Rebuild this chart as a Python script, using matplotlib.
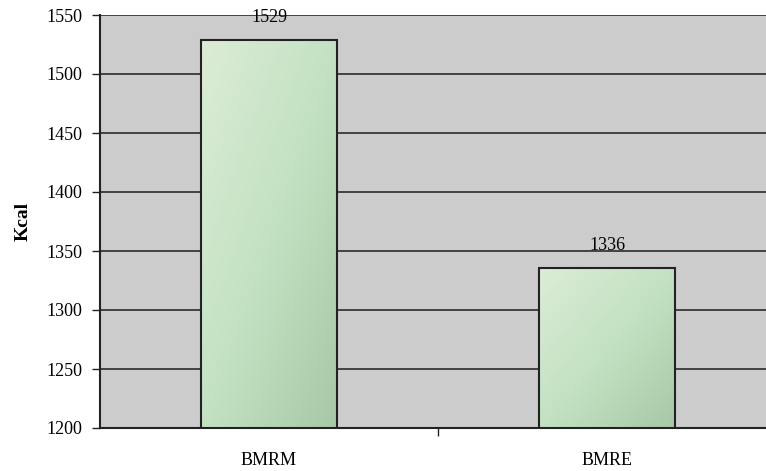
import numpy as np
import matplotlib.pyplot as plt
from matplotlib.colors import LinearSegmentedColormap

categories = ["BMRM", "BMRE"]
values = [1529, 1336]

plt.rcParams['font.family'] = ['Liberation Serif', 'DejaVu Serif']

fig = plt.figure(figsize=(7.66, 4.71), dpi=100)
ax = fig.add_axes([100/766, 43/471, 676/766, 413/471])
ax.set_facecolor("#cccccc")

x = np.arange(len(categories))
bars = ax.bar(x, values, width=0.4, bottom=0, color="none", edgecolor="#222222",
              linewidth=1.5, zorder=3)

# diagonal gradient inside each bar: light top-left, darker bottom-right
cmap = LinearSegmentedColormap.from_list("grn", ["#dcecd6", "#c3e2c3", "#a7c9a7"])
yy, xx = np.mgrid[0:1:100j, 0:1:100j]
grad = (xx + yy) / 2
for b in bars:
    x0, w, h = b.get_x(), b.get_width(), b.get_height()
    im = ax.imshow(grad, cmap=cmap, extent=[x0, x0 + w, 1200, h], origin="upper",
                   aspect="auto", zorder=2)
    im.set_clip_path(b)

for xi, v in zip(x, values):
    ax.annotate(str(v), (xi, v), xytext=(0, 10), textcoords="offset points",
                ha="center", va="bottom", fontsize=13, zorder=4)

ax.set_ylim(1200, 1550)
ax.set_xlim(-0.5, 1.5)
ax.set_yticks(np.arange(1200, 1551, 50))
ax.yaxis.grid(True, color="#2a2a2a", linewidth=1.2, zorder=1)
ax.set_axisbelow(True)

ax.set_xticks(x)
ax.set_xticklabels(categories)
ax.set_xticks([0.5], minor=True)
ax.tick_params(axis="x", which="major", length=0, pad=17, labelsize=13)
ax.tick_params(axis="x", which="minor", length=6, width=1, direction="out", color="#222222")
ax.tick_params(axis="y", length=6, width=1, color="#222222", labelsize=13, pad=7)

for s in ["top", "right"]:
    ax.spines[s].set_visible(False)
for s in ["left", "bottom"]:
    ax.spines[s].set_color("#222222")
    ax.spines[s].set_linewidth(1.5)

ax.set_ylabel("Kcal", fontweight="bold", fontsize=14, labelpad=10)

fig.savefig("out.png", dpi=100)
